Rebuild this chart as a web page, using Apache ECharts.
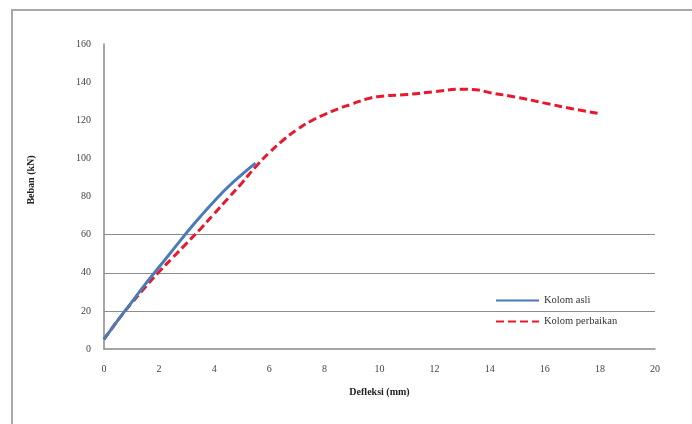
<!DOCTYPE html>
<html>
<head>
<meta charset="utf-8">
<script src="https://cdn.jsdelivr.net/npm/echarts@6/dist/echarts.min.js"></script>
<style>html,body{margin:0;padding:0;background:#fff;}#c{width:692px;height:424px;}</style>
</head>
<body>
<div id="c"></div>
<script>
const xTicks = [0, 2, 4, 6, 8, 10, 12, 14, 16, 18, 20];
const yTicks = [0, 20, 40, 60, 80, 100, 120, 140, 160];
const seriesNames = ['Kolom asli', 'Kolom perbaikan'];
const asliX = [0, 0.5, 1, 1.5, 2, 2.5, 3, 3.5, 4, 4.5, 5, 5.5];
const asliY = [5, 15, 24.5, 34, 43, 52, 61, 69.5, 77.5, 85, 91.5, 97.5];
const perbaikanX = [0, 0.5, 1, 1.5, 2, 2.5, 3, 3.5, 4, 4.5, 5, 5.5, 6, 6.5, 7, 7.5, 8, 8.5, 9, 9.5, 10, 11, 12, 13, 13.5, 14, 15, 16, 17, 18];
const perbaikanY = [5, 15, 24, 32.5, 40.5, 48, 55.5, 63, 71, 79, 87, 95.5, 103, 109.5, 115, 119.5, 123, 126, 128.5, 131, 132.5, 133.5, 135, 136.3, 136, 134.5, 132, 129, 126, 123.5];

const zip = (xs, ys) => xs.map((x, i) => [x, ys[i]]);
const font = '"Liberation Serif", "DejaVu Serif", serif';

const chart = echarts.init(document.getElementById('c'), null, {renderer: 'canvas'});
chart.setOption({
  animation: false,
  backgroundColor: '#fff',
  grid: {left: 104, right: 37, top: 44, bottom: 75, containLabel: false},
  graphic: [
    {type: 'rect', shape: {x: 12, y: 10, width: 700, height: 440}, style: {fill: 'none', stroke: '#a8a8a8', lineWidth: 2}, silent: true},
    {type: 'text', x: 31, y: 180, rotation: Math.PI / 2,
     style: {text: 'Beban (kN)', font: 'bold 10px ' + font, fill: '#222', align: 'center', verticalAlign: 'middle'}}
  ],
  legend: {
    orient: 'vertical', left: 490, top: 290, itemWidth: 43, itemHeight: 10, itemGap: 10,
    itemStyle: {opacity: 0},
    textStyle: {fontFamily: font, fontSize: 10.5, color: '#333'},
    data: seriesNames
  },
  xAxis: {
    type: 'value', min: 0, max: 20, interval: 2,
    name: 'Defleksi (mm)', nameLocation: 'middle', nameGap: 38,
    nameTextStyle: {fontFamily: font, fontSize: 10, fontWeight: 'bold', color: '#222'},
    axisLine: {show: true, lineStyle: {color: '#888', width: 1.5}},
    axisTick: {show: false},
    axisLabel: {margin: 15, fontFamily: font, fontSize: 10, color: '#444',
      formatter: v => xTicks.includes(v) ? String(v) : ''},
    splitLine: {show: false}
  },
  yAxis: {
    type: 'value', min: 0, max: 160, interval: 20,
    axisLine: {show: true, lineStyle: {color: '#888', width: 1.5}},
    axisTick: {show: false},
    axisLabel: {margin: 13, fontFamily: font, fontSize: 10, color: '#444',
      formatter: v => yTicks.includes(v) ? String(v) : ''},
    splitLine: {show: true, lineStyle: {width: 1.2,
      color: ['rgba(0,0,0,0)', '#8c8c8c', '#8c8c8c', '#8c8c8c', 'rgba(0,0,0,0)', 'rgba(0,0,0,0)', 'rgba(0,0,0,0)', 'rgba(0,0,0,0)', 'rgba(0,0,0,0)']}}
  },
  series: [
    {name: seriesNames[0], type: 'line', data: zip(asliX, asliY), smooth: 0.5, symbol: 'none', z: 3,
     lineStyle: {color: '#4a7bb8', width: 3}, itemStyle: {color: '#4a7bb8'}},
    {name: seriesNames[1], type: 'line', data: zip(perbaikanX, perbaikanY), smooth: 0.5, symbol: 'none', z: 2,
     lineStyle: {color: '#e8182e', width: 3, type: [8, 4]}, itemStyle: {color: '#e8182e'}}
  ]
});
</script>
</body>
</html>
